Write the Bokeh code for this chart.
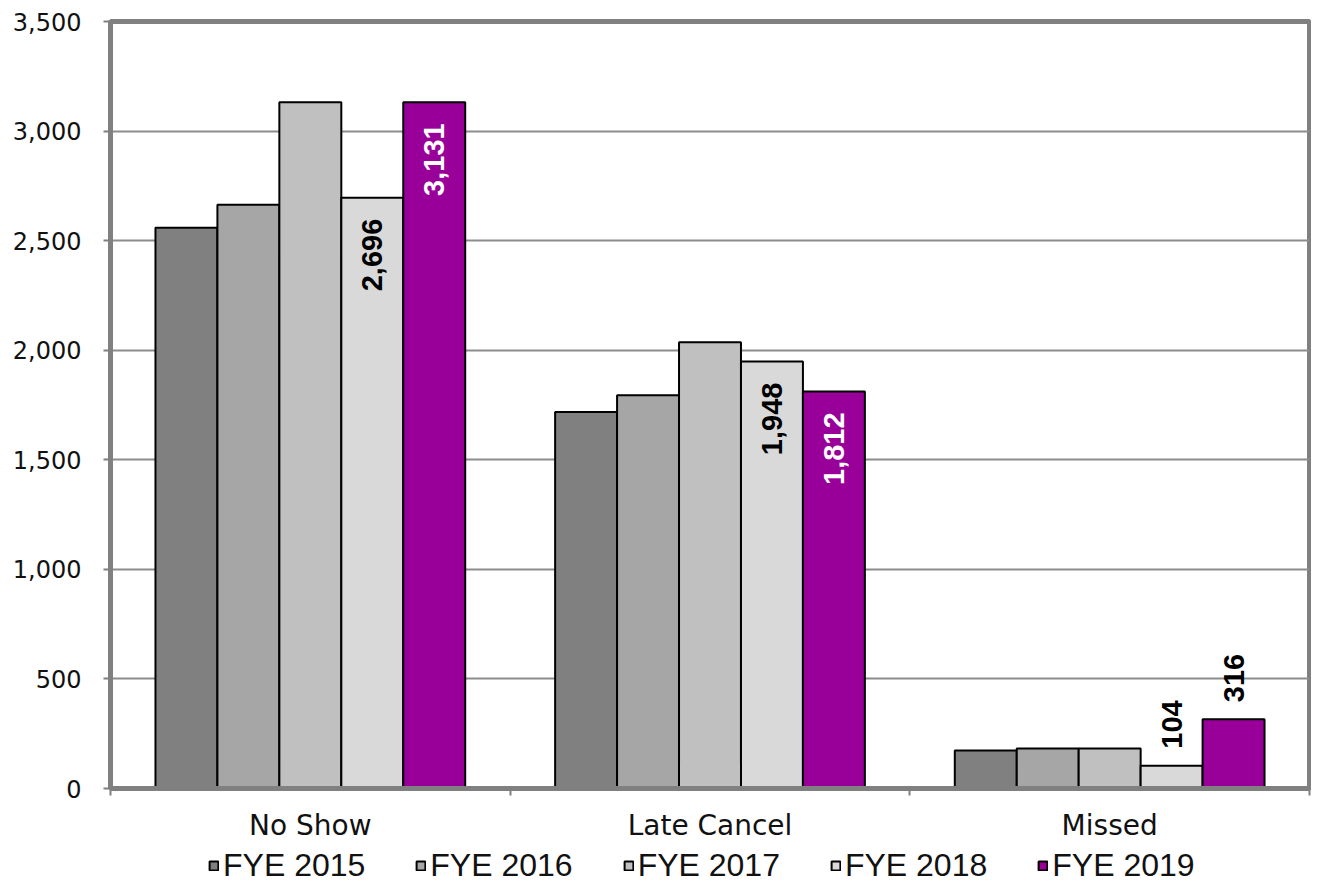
from bokeh.plotting import figure
from bokeh.models import (Range1d, FixedTicker, NumeralTickFormatter, ColumnDataSource,
                          LabelSet, Legend, LegendItem)
from bokeh.layouts import column
from bokeh.transform import dodge
from bokeh.core.properties import value
from bokeh.embed import file_html
from bokeh.resources import INLINE

# ---------------- data ----------------
categories = ["No Show", "Late Cancel", "Missed"]
series_names = ["FYE 2015", "FYE 2016", "FYE 2017", "FYE 2018", "FYE 2019"]
fye_2015 = [2559, 1718, 173]
fye_2016 = [2664, 1795, 182]
fye_2017 = [3132, 2036, 182]
fye_2018 = [2696, 1948, 104]
fye_2019 = [3131, 1812, 316]
y_ticks = [0, 500, 1000, 1500, 2000, 2500, 3000, 3500]
labeled_series = ["FYE 2018", "FYE 2019"]

colors = ["#808080", "#A6A6A6", "#C0C0C0", "#D9D9D9", "#990099"]
inside_text_colors = {"FYE 2018": "#000000", "FYE 2019": "#FFFFFF"}

values = [fye_2015, fye_2016, fye_2017, fye_2018, fye_2019]
cols = ["fye_2015", "fye_2016", "fye_2017", "fye_2018", "fye_2019"]
centers = [i + 0.5 for i in range(len(categories))]

src = ColumnDataSource(dict(x=centers, **{c: v for c, v in zip(cols, values)}))

W = 1311
p = figure(width=W, height=844,
           x_range=Range1d(0, len(categories)), y_range=Range1d(0, 3500),
           output_backend="svg", toolbar_location=None,
           min_border_left=110, min_border_right=2, min_border_top=21, min_border_bottom=53,
           background_fill_color="white", border_fill_color="white")

step = 0.155
offsets = [(-2 + i) * step for i in range(5)]
for col, off, color in zip(cols, offsets, colors):
    p.vbar(x=dodge("x", off), top=col, width=step, source=src,
           fill_color=color, line_color="black", line_width=2)

# data labels
for name in labeled_series:
    i = series_names.index(name)
    vals = values[i]
    inside = [k for k, v in enumerate(vals) if v >= 500]
    outside = [k for k, v in enumerate(vals) if v < 500]
    for idxs, is_inside in ((inside, True), (outside, False)):
        if not idxs:
            continue
        s = ColumnDataSource(dict(
            x=[centers[k] + offsets[i] for k in idxs],
            y=[vals[k] for k in idxs],
            t=[f"{vals[k]:,}" for k in idxs]))
        lbl = LabelSet(x="x", y="y", text="t", source=s, angle=1.5708,
                       text_align="right" if is_inside else "left",
                       text_baseline="middle",
                       y_offset=-21 if is_inside else 17,
                       text_font=value("Liberation Sans"), text_font_style="bold",
                       text_font_size="29px",
                       text_color=inside_text_colors[name] if is_inside else "#000000")
        p.add_layout(lbl)

# axes
p.outline_line_color = "#808080"
p.outline_line_width = 5

p.yaxis.ticker = FixedTicker(ticks=y_ticks)
p.yaxis.formatter = NumeralTickFormatter(format="0,0")
p.yaxis.axis_line_color = "#808080"
p.yaxis.axis_line_width = 5
p.yaxis.major_tick_out = 7
p.yaxis.major_tick_in = 0
p.yaxis.major_tick_line_color = "#808080"
p.yaxis.major_tick_line_width = 2
p.yaxis.minor_tick_line_color = None
p.yaxis.major_label_standoff = 22
p.yaxis.major_label_text_font = "DejaVu Sans"
p.yaxis.major_label_text_font_size = "24px"
p.yaxis.major_label_text_color = "#111111"

p.xaxis.ticker = FixedTicker(ticks=centers, minor_ticks=list(range(len(categories) + 1)))
p.xaxis.major_label_overrides = {c: name for c, name in zip(centers, categories)}
p.xaxis.axis_line_color = "#808080"
p.xaxis.axis_line_width = 5
p.xaxis.major_tick_out = 0
p.xaxis.major_tick_in = 0
p.xaxis.minor_tick_out = 7
p.xaxis.minor_tick_in = 0
p.xaxis.minor_tick_line_color = "#808080"
p.xaxis.minor_tick_line_width = 2
p.xaxis.major_label_standoff = 13
p.xaxis.major_label_text_font = "DejaVu Sans"
p.xaxis.major_label_text_font_size = "28px"
p.xaxis.major_label_text_color = "#111111"

p.xgrid.visible = False
p.ygrid.ticker = FixedTicker(ticks=y_ticks)
p.ygrid.grid_line_color = "#8C8C8C"
p.ygrid.grid_line_width = 2

# ---------------- legend strip (its renderers are hidden; only the legend shows) ----------------
lg = figure(width=W, height=40, x_range=Range1d(0, len(categories)), y_range=Range1d(0, 3500),
            output_backend="svg", toolbar_location=None,
            min_border_left=0, min_border_right=0, min_border_top=0, min_border_bottom=0,
            background_fill_color="white", border_fill_color="white")
lg.axis.visible = False
lg.grid.visible = False
lg.outline_line_color = None
items = []
for name, col, off, color in zip(series_names, cols, offsets, colors):
    r = lg.vbar(x=dodge("x", off), top=col, width=step, source=src,
                fill_color=color, line_color="black", line_width=2)
    r.visible = False
    items.append(LegendItem(label=name, renderers=[r]))
legend = Legend(items=items, orientation="horizontal", location=(98, 0),
                click_policy="none",
                background_fill_alpha=0, border_line_alpha=0,
                padding=0, margin=0, spacing=50, label_standoff=4,
                glyph_width=11, glyph_height=11,
                label_text_font="Liberation Sans", label_text_font_size="32px",
                label_text_color="#111111")
lg.add_layout(legend)

layout = column(p, lg, spacing=0)
open("out.html", "w").write(file_html(layout, INLINE))
